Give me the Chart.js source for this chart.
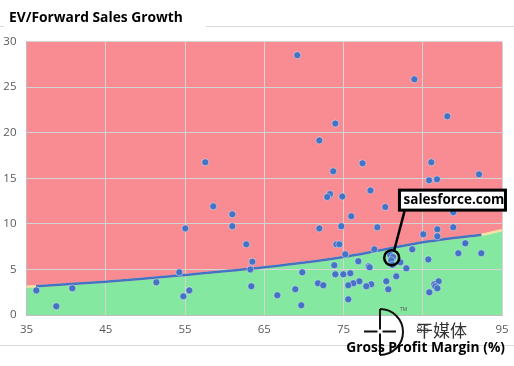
<!DOCTYPE html>
<html>
<head>
<meta charset="utf-8">
<style>
body { margin: 0; background: #fff; }
#wrap { width: 514px; height: 366px; }
</style>
<script src="https://cdn.jsdelivr.net/npm/chart.js@4/dist/chart.umd.min.js"></script>
</head>
<body>
<div id="wrap"><canvas id="chart" width="514" height="366"></canvas></div>
<script>
const xTicks = [35, 45, 55, 65, 75, 85, 95];
const yTicks = [0, 5, 10, 15, 20, 25, 30];

// [margin, EV/sales growth]
const companies = [
  [57.56,16.75],[69.17,28.5],[83.94,25.85],[73.97,21.0],[88.1,21.8],[71.95,19.15],[73.7,15.76],
  [77.4,16.64],[86.08,16.75],[85.8,14.77],[86.8,14.88],[92.1,15.43],[36.24,2.7],[38.76,0.95],
  [40.78,2.93],[51.38,3.58],[54.28,4.68],[54.79,2.05],[55.54,2.7],[55.04,9.5],[58.57,11.92],
  [60.97,11.04],[60.97,9.73],[62.73,7.75],[63.5,5.85],[63.24,5.0],[63.37,3.15],[78.4,13.67],
  [73.3,13.27],[72.95,12.95],[74.85,13.0],[80.27,11.84],[75.98,10.83],[71.95,9.5],[74.72,9.73],
  [79.27,9.62],[88.85,11.26],[88.85,9.62],[86.84,9.4],[86.84,8.63],[85.07,8.85],[90.37,7.86],
  [74.1,7.75],[74.47,7.75],[78.89,7.2],[75.23,6.65],[83.68,7.2],[89.49,6.77],[92.39,6.77],
  [85.7,6.1],[76.87,5.9],[73.84,5.45],[78.17,5.34],[78.3,5.23],[80.9,6.6],[81.25,6.36],[81.03,6.0],
  [82.17,5.78],[81.16,5.5],[82.93,5.12],[69.8,4.68],[73.97,4.46],[74.98,4.46],[75.86,4.57],
  [81.66,4.24],[80.4,3.7],[77,3.7],[76.24,3.48],[75.6,3.26],[78.5,3.37],[77.88,3.15],[71.78,3.48],
  [72.45,3.26],[68.92,2.82],[80.65,2.82],[66.65,2.16],[75.6,1.72],[69.67,1.06],[85.83,2.49],
  [86.46,3.37],[87.0,3.7],[86.58,3.15],[86.84,2.93]
];

const boundaryX = [35, 45, 55, 65, 75, 85, 92.4, 95];
const boundaryY = [3.1, 3.65, 4.39, 5.23, 6.36, 7.97, 8.8, 9.3];
const trendX = [36.2, 45, 55, 65, 75, 85, 92.4];
const trendY = [3.15, 3.65, 4.39, 5.23, 6.36, 7.97, 8.8];

const salesforce = [81.08, 6.28];
const calloutLabel = "salesforce.com";
const calloutAt = [88.75, 12.6];
const leaderX = [82.7, 81.4];
const leaderY = [11.4, 7.1];

const toPoints = (xs, ys) => xs.map((x, i) => ({ x: x, y: ys[i] }));

const overlay = {
  id: "overlay",
  afterDraw(chart) {
    const c = chart.ctx;
    const sx = chart.scales.x, sy = chart.scales.y;
    c.save();

    // header and footer rules
    c.strokeStyle = "#d9d9d9";
    c.lineWidth = 1;
    c.beginPath();
    c.moveTo(0, 26.5); c.lineTo(4, 26.5);
    c.moveTo(206, 26.5); c.lineTo(514, 26.5);
    c.moveTo(0, 345.5); c.lineTo(514, 345.5);
    c.stroke();

    c.fillStyle = "#000";
    c.textBaseline = "middle";
    c.textAlign = "left";
    c.font = "bold 13.8px 'Open Sans'";
    c.fillText("EV/Forward Sales Growth", 9, 18);

    // callout box
    const bx = sx.getPixelForValue(calloutAt[0]);
    const by = sy.getPixelForValue(calloutAt[1]);
    c.fillStyle = "#fff";
    c.fillRect(bx - 53, by - 10, 106, 20);
    c.strokeStyle = "#000";
    c.lineWidth = 3;
    c.strokeRect(bx - 53, by - 10, 106, 20);
    c.fillStyle = "#000";
    c.textAlign = "center";
    c.font = "bold 13.5px 'Open Sans'";
    c.fillText(calloutLabel, bx + 1.5, by);

    // watermark
    c.strokeStyle = "#111";
    c.lineWidth = 2;
    c.beginPath();
    c.moveTo(380, 309);
    c.arc(380, 332, 23, -Math.PI / 2, Math.PI / 2);
    c.moveTo(380, 309); c.lineTo(380, 329.5);
    c.moveTo(380, 333.5); c.lineTo(380, 355);
    c.moveTo(364, 331.5); c.lineTo(377.5, 331.5);
    c.moveTo(382.5, 331.5); c.lineTo(396, 331.5);
    c.stroke();
    c.fillStyle = "#555";
    c.textAlign = "left";
    c.font = "5px 'Open Sans'";
    c.fillText("TM", 400, 310);
    c.fillStyle = "#333";
    c.font = "17px 'Noto Sans CJK SC'";
    c.fillText("干媒体", 416, 331);

    c.fillStyle = "#000";
    c.textAlign = "right";
    c.font = "bold 13.8px 'Open Sans'";
    c.fillText("Gross Profit Margin (%)", 505, 348);
    c.restore();
  }
};

new Chart(document.getElementById("chart"), {
  type: "scatter",
  data: {
    datasets: [
      { label: "Leader", data: toPoints(leaderX, leaderY), showLine: true, borderColor: "#000", borderWidth: 2.5, pointRadius: 0, order: 0, clip: false },
      { label: "salesforce.com", data: [{ x: salesforce[0], y: salesforce[1] }], pointRadius: 7.5, pointBackgroundColor: "rgba(0,0,0,0)", pointBorderColor: "#000", pointBorderWidth: 2.5, order: 1 },
      { label: "Companies", data: companies.map(p => ({ x: p[0], y: p[1] })), pointStyle: "circle", pointRadius: 3.5, pointBackgroundColor: "#4472c4", pointBorderColor: "rgba(255,255,255,0.7)", pointBorderWidth: 0.6, order: 2 },
      { label: "Trend", data: toPoints(trendX, trendY), showLine: true, borderColor: "#4472c4", borderWidth: 2.5, pointRadius: 0, tension: 0.3, order: 3 },
      { label: "Below", data: toPoints(boundaryX, boundaryY), showLine: true, borderColor: "#f5e1a4", borderWidth: 2.5, pointRadius: 0, backgroundColor: "#85e8a0", fill: "origin", tension: 0.3, order: 4, clip: false },
      { label: "Above", data: toPoints(boundaryX, boundaryY), showLine: true, borderWidth: 0, pointRadius: 0, backgroundColor: "#f98b92", fill: "end", tension: 0.3, order: 5 }
    ]
  },
  plugins: [overlay],
  options: {
    responsive: false,
    animation: false,
    layout: { padding: { left: 0, right: 12, top: 41.5, bottom: 0 } },
    plugins: {
      legend: { display: false },
      tooltip: { enabled: false },
      filler: { drawTime: "beforeDraw" }
    },
    scales: {
      x: {
        type: "linear",
        min: 35,
        max: 95,
        afterBuildTicks(axis) { axis.ticks = xTicks.map(v => ({ value: v })); },
        afterFit(axis) { axis.height = 51; axis.paddingLeft = 0; axis.paddingRight = 0; },
        grid: { color: "#d4d4d4", lineWidth: 1, drawTicks: false },
        border: { color: "#bfbfbf" },
        ticks: { color: "#595959", maxRotation: 0, autoSkip: false, padding: 8, font: { family: "'Open Sans'", size: 11.5 } }
      },
      y: {
        min: 0,
        max: 30,
        afterBuildTicks(axis) { axis.ticks = yTicks.map(v => ({ value: v })); },
        afterFit(axis) { axis.width = 26.5; axis.paddingTop = 0; axis.paddingBottom = 0; },
        grid: { color: "#d4d4d4", lineWidth: 1, drawTicks: false },
        border: { color: "#bfbfbf" },
        ticks: { color: "#595959", padding: 10, font: { family: "'Open Sans'", size: 11.5 } }
      }
    }
  }
});
</script>
</body>
</html>
